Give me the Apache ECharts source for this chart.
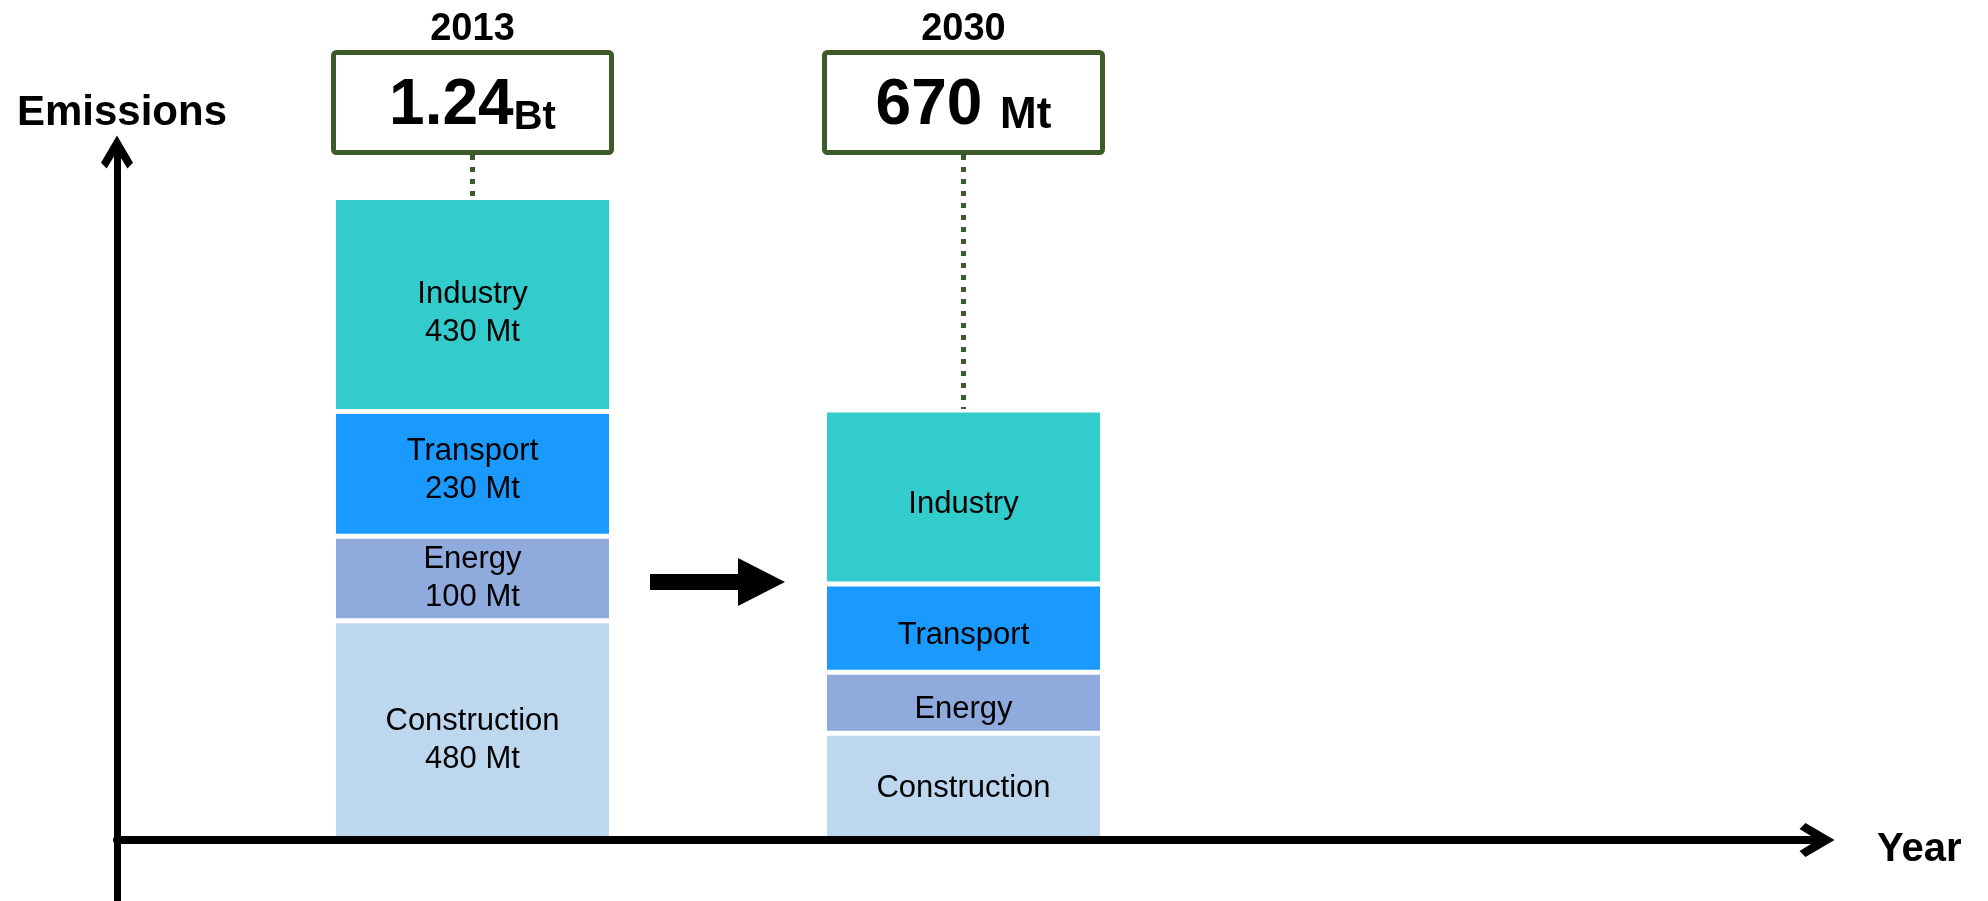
<!DOCTYPE html>
<html>
<head>
<meta charset="utf-8">
<script src="https://cdn.jsdelivr.net/npm/echarts@6/dist/echarts.min.js"></script>
<style>
  html, body { margin: 0; padding: 0; background: #fff; }
  #chart { width: 1988px; height: 901px; }
</style>
</head>
<body>
<div id="chart"></div>
<script>
// ---- data ----
const years = [2013, 2030];
const sectors = ['Construction', 'Energy', 'Transport', 'Industry'];
// drawn (schematic) heights of each segment, in Mt-equivalent units
const construction = [423, 206];
const energy = [163, 118];
const transport = [241, 170];
const industry = [413, 336];
// values printed in the 2013 bar
const stated2013 = [480, 100, 230, 430];
// totals printed in the boxes
const totalNumber = ['1.24', '670 '];
const totalUnit = ['Bt', 'Mt'];
// visible extent of the year axis
const yearMin = 2000.691;
const yearMax = 2059.552;

// ---- styles ----
const FONT = '"Liberation Sans", Arial, Helvetica, sans-serif';
const GREEN = '#3d5a29';
const colors = ['#bdd7ee', '#8faadc', '#1a9aff', '#33cccc'];
// vertical nudges of the in-bar labels [sector][bar]
const labelOffsets = [[10, 2], [0, 7], [-3, 7], [9, 7]];
const chevron = 'path://M0 0 L17 29 L11 35 L0 17 L-11 35 L-17 29 Z';

const seriesData = [construction, energy, transport, industry];
const totals = years.map((y, i) => seriesData.reduce((s, arr) => s + arr[i], 0));

const chart = echarts.init(document.getElementById('chart'), null, { renderer: 'canvas' });

// value first, year second -> the value dimension is the one that gets stacked
const barSeries = sectors.map((name, k) => ({
  name: name,
  type: 'bar',
  stack: 'total',
  barWidth: 278,
  encode: { x: 1, y: 0 },
  data: years.map((y, i) => ({
    value: [seriesData[k][i], y],
    label: { offset: [0, labelOffsets[k][i]] }
  })),
  itemStyle: { color: colors[k], borderColor: '#ffffff', borderWidth: 2.5 },
  label: {
    show: true,
    position: 'inside',
    color: '#000',
    fontFamily: FONT,
    fontSize: 31,
    lineHeight: 38,
    formatter: function (p) {
      return p.dataIndex === 0 ? name + '\n' + stated2013[k] + ' Mt' : name;
    }
  },
  emphasis: { disabled: true },
  silent: true,
  z: 2
}));

const boxSeries = {
  type: 'custom',
  silent: true,
  z: 1,
  data: years.map((y, i) => [y, totals[i], i]),
  renderItem: function (params, api) {
    const i = api.value(2);
    const p = api.coord([api.value(0), api.value(1)]);
    const cx = p[0], top = p[1];
    const unitSize = i === 0 ? 40 : 44;
    const unitLH = 64 - 0.693 * (64 - unitSize);
    return {
      type: 'group',
      children: [
        { type: 'line', shape: { x1: cx, y1: 155, x2: cx, y2: top - 1 },
          style: { stroke: GREEN, lineWidth: 5, lineDash: [5, 7] } },
        { type: 'rect', shape: { x: cx - 139, y: 52.5, width: 278, height: 100, r: 3 },
          style: { fill: '#ffffff', stroke: GREEN, lineWidth: 5 } },
        { type: 'text', style: { text: String(years[i]), x: cx, y: 30, fill: '#000',
          font: 'bold 38px ' + FONT, align: 'center', verticalAlign: 'middle' } },
        { type: 'text', style: {
          text: '{n|' + totalNumber[i] + '}{u|' + totalUnit[i] + '}',
          x: cx, y: 106, align: 'center', verticalAlign: 'middle',
          rich: {
            n: { fontSize: 64, fontWeight: 'bold', fontFamily: FONT, lineHeight: 64, verticalAlign: 'bottom', fill: '#000', color: '#000' },
            u: { fontSize: unitSize, fontWeight: 'bold', fontFamily: FONT, lineHeight: unitLH, verticalAlign: 'bottom', fill: '#000', color: '#000' }
          }
        } }
      ]
    };
  }
};

chart.setOption({
  animation: false,
  backgroundColor: '#ffffff',
  title: {
    text: 'Year',
    left: 1877,
    top: 830,
    padding: 0,
    textStyle: { color: '#000', fontFamily: FONT, fontWeight: 'bold', fontSize: 40, lineHeight: 40 }
  },
  grid: { left: 117, right: 171, top: 152, bottom: 0, containLabel: false, outerBoundsMode: 'none' },
  xAxis: {
    type: 'value',
    min: yearMin,
    max: yearMax,
    z: 5,
    axisLine: { show: true, onZero: true, symbol: ['none', chevron], symbolSize: [34, 35],
      lineStyle: { color: '#000', width: 8 } },
    axisTick: { show: false },
    axisLabel: { show: false },
    splitLine: { show: false }
  },
  yAxis: {
    type: 'value',
    min: -117.7,
    max: 1327.8,
    name: 'Emissions',
    nameLocation: 'end',
    nameGap: 39,
    nameTextStyle: { color: '#000', fontFamily: FONT, fontWeight: 'bold', fontSize: 42,
      align: 'center', verticalAlign: 'middle', padding: [0, 0, 0, 10] },
    axisLine: { show: true, onZero: false, symbol: ['none', chevron], symbolSize: [34, 33],
      lineStyle: { color: '#000', width: 7 } },
    axisTick: { show: false },
    axisLabel: { show: false },
    splitLine: { show: false }
  },
  series: [boxSeries].concat(barSeries)
});

// transition arrow between the two bars
const midX = chart.convertToPixel({ xAxisIndex: 0 }, (years[0] + years[1]) / 2);
const ay = 582;
chart.setOption({
  graphic: [{
    type: 'polygon',
    silent: true,
    shape: { points: [[-68, -8], [20, -8], [20, -24], [67, 0], [20, 24], [20, 8], [-68, 8]]
      .map(q => [midX + q[0], ay + q[1]]) },
    style: { fill: '#000' }
  }]
});
</script>
</body>
</html>
